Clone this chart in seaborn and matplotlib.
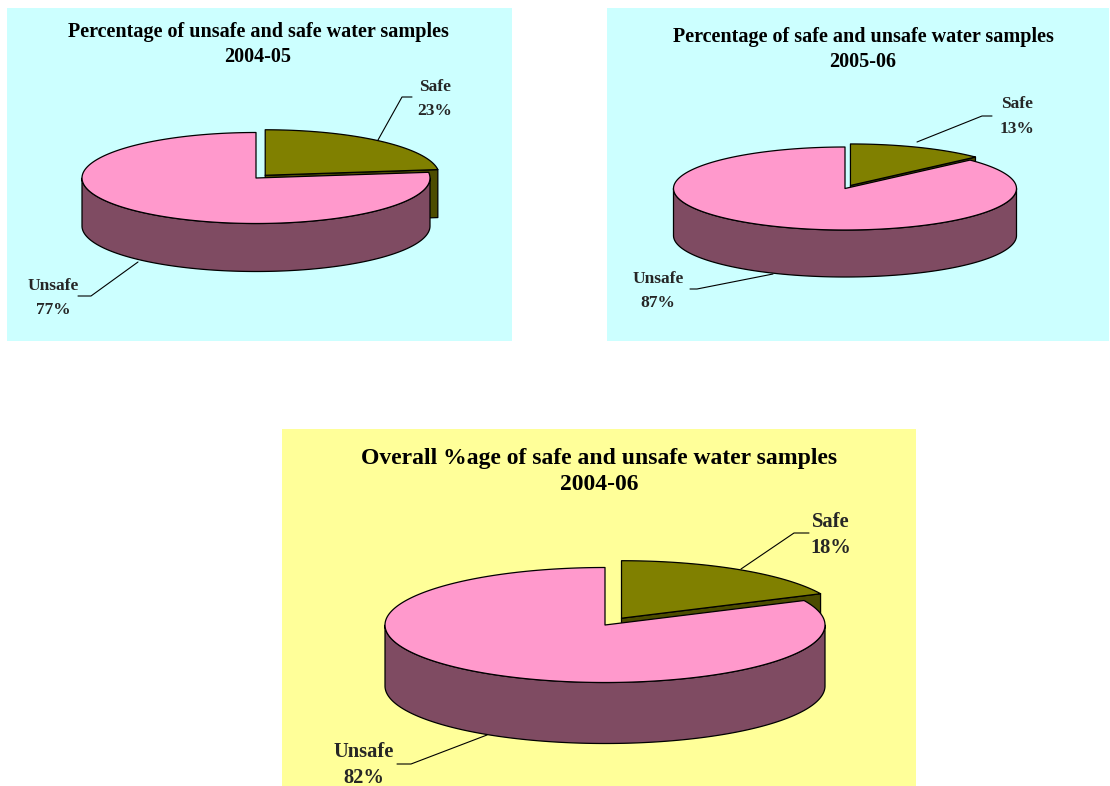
import numpy as np
import matplotlib
matplotlib.use("Agg")
import matplotlib.pyplot as plt
from matplotlib.patches import Polygon
import seaborn as sns

# Water sample results by period
categories = ["Safe", "Unsafe"]
periods = ["2004-05", "2005-06", "2004-06"]
safe_pct = [23, 13, 18]
unsafe_pct = [77, 87, 82]
chart_titles = [
    "Percentage of unsafe and safe water samples",
    "Percentage of safe and unsafe water samples",
    "Overall %age of safe and unsafe water samples",
]

sns.set_theme(style="white")
plt.rcParams["font.family"] = ["Liberation Serif", "DejaVu Serif"]

W, H = 1110, 786
fig = plt.figure(figsize=(W / 100, H / 100), dpi=100)
fig.patch.set_facecolor("white")

top_colors = ["#808000", "#FF99CC"]
side_colors = ["#4C4C00", "#7F4B62"]
EDGE = dict(edgecolor="black", linewidth=0.9, joinstyle="round")


def arc(cx, cy, rx, ry, a0, a1, n=200, dy=0.0):
    t = np.radians(np.linspace(a0, a1, n))
    return np.column_stack([cx + rx * np.cos(t), cy - ry * np.sin(t) + dy])


def pie3d(ax, values, center, rx, ry, depth, explode):
    total = float(sum(values))
    hi = 90.0
    slices = []
    for i, v in enumerate(values):
        sweep = 360.0 * v / total
        lo = hi - sweep
        mid = np.radians((lo + hi) / 2)
        ex = explode[i]
        cx = center[0] + ex * rx * np.cos(mid)
        cy = center[1] - ex * ry * np.sin(mid)
        slices.append((np.sin(mid), i, lo, hi, cx, cy))
        hi = lo
    # back slices first
    slices.sort(key=lambda s: -s[0])
    for _, i, lo, hi, cx, cy in slices:
        # radial cut faces that face the viewer
        for a, vis in ((lo, np.cos(np.radians(lo)) > 1e-6),
                       (hi, np.cos(np.radians(hi)) < -1e-6)):
            if vis:
                rxp = cx + rx * np.cos(np.radians(a))
                ryp = cy - ry * np.sin(np.radians(a))
                face = [(cx, cy), (rxp, ryp), (rxp, ryp + depth), (cx, cy + depth)]
                ax.add_patch(Polygon(face, closed=True, facecolor=side_colors[i], **EDGE))
        # outer wall on the front half
        for k in range(-2, 2):
            f0, f1 = 180 + 360 * k, 360 + 360 * k
            w0, w1 = max(lo, f0), min(hi, f1)
            if w1 > w0:
                top = arc(cx, cy, rx, ry, w0, w1)
                bot = arc(cx, cy, rx, ry, w1, w0, dy=depth)
                ax.add_patch(Polygon(np.vstack([top, bot]), closed=True,
                                     facecolor=side_colors[i], **EDGE))
        # top face
        pts = np.vstack([[cx, cy], arc(cx, cy, rx, ry, lo, hi)])
        ax.add_patch(Polygon(pts, closed=True, facecolor=top_colors[i], **EDGE))


panels = [
    dict(rect=(7, 8, 505, 333), bg="#CCFFFF", center=(249, 170), rx=174, ry=45.5,
         depth=48, explode=[0.08, 0.0], title_xy=(251, 36.5), tsize=14.5, tspace=1.34,
         safe_xy=(428, 91), safe_line=[(405, 89), (395, 89), (371, 132)],
         unsafe_xy=(46, 290), unsafe_line=[(71, 288), (84, 288), (131, 254)],
         lsize=12.5, lspace=1.68),
    dict(rect=(607, 8, 502, 333), bg="#CCFFFF", center=(238, 180.5), rx=171.5, ry=41.5,
         depth=47, explode=[0.08, 0.0], title_xy=(256, 41.5), tsize=14.5, tspace=1.34,
         safe_xy=(410, 108.5), safe_line=[(385, 108), (375, 108), (310, 134)],
         unsafe_xy=(51, 283), unsafe_line=[(83, 281), (90, 281), (166, 266)],
         lsize=12.5, lspace=1.68),
    dict(rect=(282, 429, 634, 357), bg="#FFFF99", center=(323, 196), rx=220, ry=57.5,
         depth=61, explode=[0.14, 0.0], title_xy=(317, 42.5), tsize=17, tspace=1.36,
         safe_xy=(549, 106), safe_line=[(527, 104), (512, 104), (459, 140)],
         unsafe_xy=(82, 336), unsafe_line=[(115, 335), (129, 335), (205, 306)],
         lsize=14.8, lspace=1.38),
]

for p, title, period, s, u in zip(panels, chart_titles, periods, safe_pct, unsafe_pct):
    x0, y0, w, h = p["rect"]
    ax = fig.add_axes([x0 / W, 1 - (y0 + h) / H, w / W, h / H])
    ax.set_facecolor(p["bg"])
    ax.set_xlim(0, w)
    ax.set_ylim(h, 0)
    ax.set_xticks([])
    ax.set_yticks([])
    for sp in ax.spines.values():
        sp.set_visible(False)

    pie3d(ax, [s, u], p["center"], p["rx"], p["ry"], p["depth"], p["explode"])

    ax.text(*p["title_xy"], f"{title}\n{period}", ha="center", va="center",
            fontsize=p["tsize"], fontweight="bold", linespacing=p["tspace"], color="black")

    lx, ly = zip(*p["safe_line"])
    ax.plot(lx, ly, color="black", lw=0.8)
    lx, ly = zip(*p["unsafe_line"])
    ax.plot(lx, ly, color="black", lw=0.8)

    ax.text(*p["safe_xy"], f"{categories[0]}\n{s}%", ha="center", va="center",
            fontsize=p["lsize"], fontweight="bold", linespacing=p["lspace"])
    ax.text(*p["unsafe_xy"], f"{categories[1]}\n{u}%", ha="center", va="center",
            fontsize=p["lsize"], fontweight="bold", linespacing=p["lspace"])

fig.savefig("out.png", dpi=100, facecolor="white")
